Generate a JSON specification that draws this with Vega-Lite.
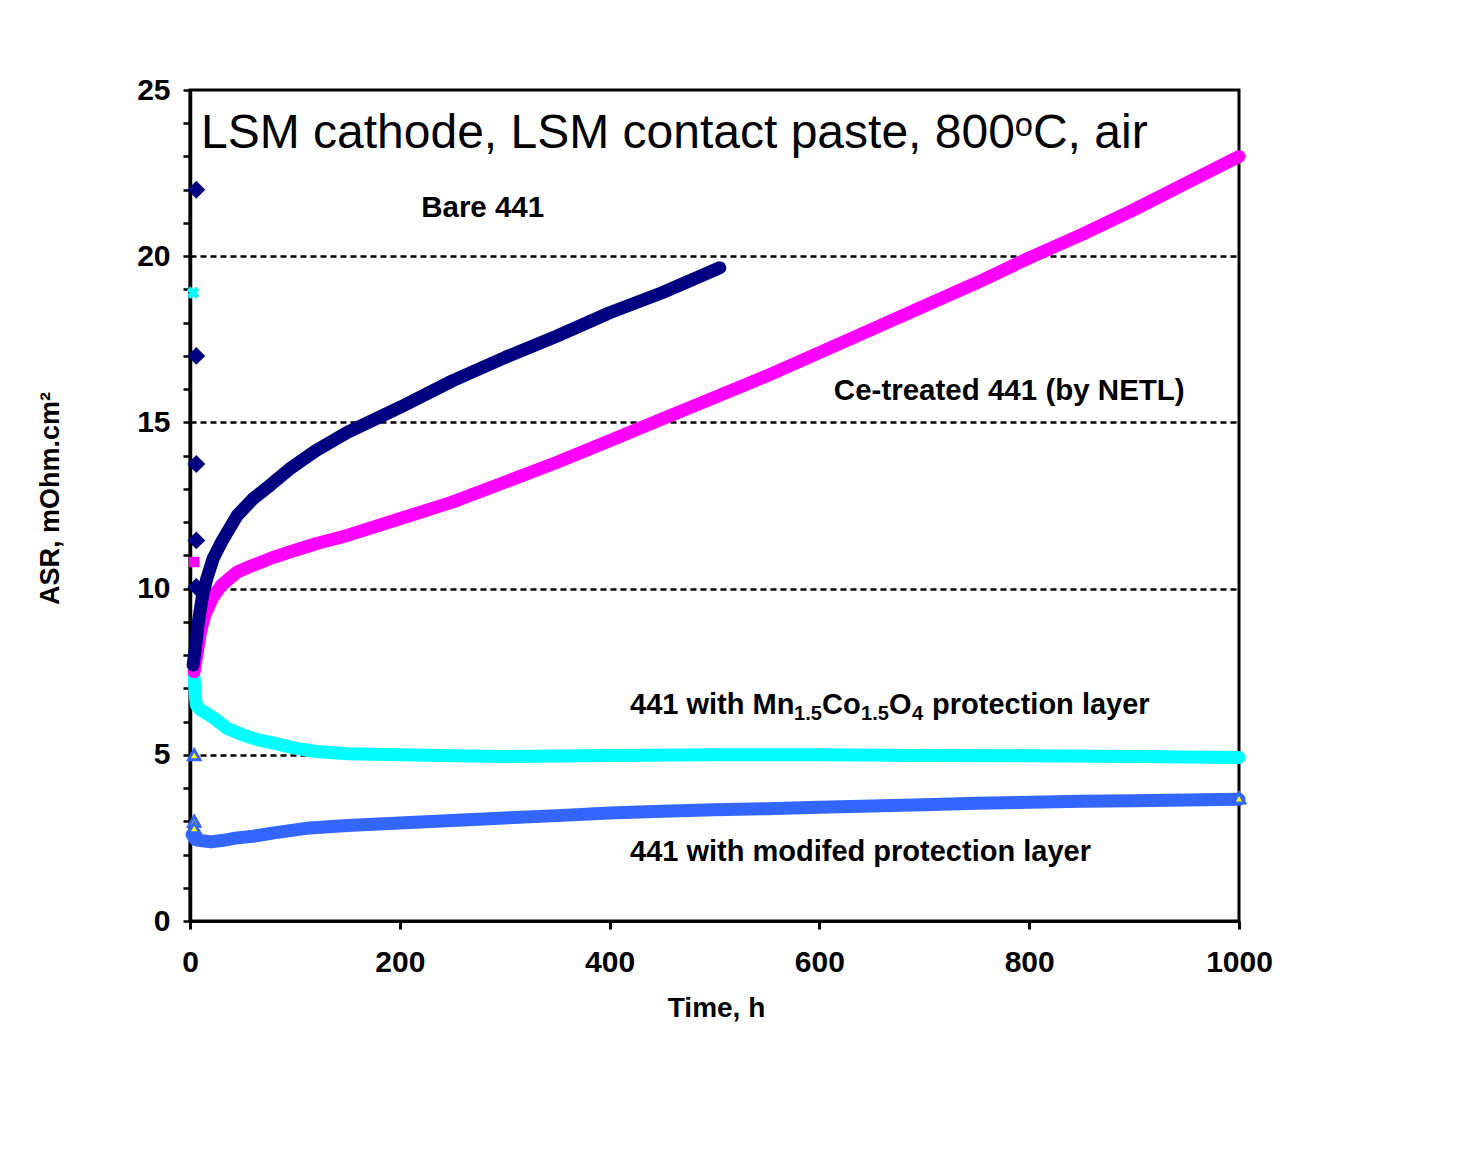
{
  "$schema": "https://vega.github.io/schema/vega-lite/v6.json",
  "width": 1049,
  "height": 831,
  "autosize": "none",
  "padding": {"left": 190, "top": 90, "right": 240, "bottom": 230},
  "background": "white",
  "config": {
    "view": {"stroke": "black", "strokeWidth": 3},
    "font": "Liberation Sans"
  },
  "datasets": {
    "curves": [
      {"series": "Mod", "t": 2, "v": 2.6}, {"series": "Mod", "t": 5, "v": 2.45}, {"series": "Mod", "t": 10, "v": 2.42}, {"series": "Mod", "t": 20, "v": 2.38}, {"series": "Mod", "t": 30, "v": 2.42}, {"series": "Mod", "t": 45, "v": 2.5}, {"series": "Mod", "t": 60, "v": 2.55}, {"series": "Mod", "t": 80, "v": 2.65}, {"series": "Mod", "t": 114, "v": 2.8}, {"series": "Mod", "t": 150, "v": 2.87}, {"series": "Mod", "t": 200, "v": 2.95}, {"series": "Mod", "t": 250, "v": 3.02}, {"series": "Mod", "t": 300, "v": 3.1}, {"series": "Mod", "t": 350, "v": 3.17}, {"series": "Mod", "t": 400, "v": 3.25}, {"series": "Mod", "t": 450, "v": 3.3}, {"series": "Mod", "t": 500, "v": 3.35}, {"series": "Mod", "t": 550, "v": 3.38}, {"series": "Mod", "t": 600, "v": 3.42}, {"series": "Mod", "t": 650, "v": 3.46}, {"series": "Mod", "t": 700, "v": 3.5}, {"series": "Mod", "t": 750, "v": 3.54}, {"series": "Mod", "t": 800, "v": 3.57}, {"series": "Mod", "t": 850, "v": 3.6}, {"series": "Mod", "t": 900, "v": 3.62}, {"series": "Mod", "t": 950, "v": 3.64}, {"series": "Mod", "t": 1000, "v": 3.66},
      {"series": "MCO", "t": 4, "v": 7.3}, {"series": "MCO", "t": 5, "v": 6.8}, {"series": "MCO", "t": 6, "v": 6.5}, {"series": "MCO", "t": 10, "v": 6.35}, {"series": "MCO", "t": 18, "v": 6.2}, {"series": "MCO", "t": 25, "v": 6.05}, {"series": "MCO", "t": 35, "v": 5.8}, {"series": "MCO", "t": 50, "v": 5.6}, {"series": "MCO", "t": 65, "v": 5.45}, {"series": "MCO", "t": 80, "v": 5.35}, {"series": "MCO", "t": 100, "v": 5.2}, {"series": "MCO", "t": 120, "v": 5.1}, {"series": "MCO", "t": 150, "v": 5.03}, {"series": "MCO", "t": 200, "v": 5.0}, {"series": "MCO", "t": 250, "v": 4.97}, {"series": "MCO", "t": 300, "v": 4.95}, {"series": "MCO", "t": 400, "v": 4.98}, {"series": "MCO", "t": 500, "v": 5.0}, {"series": "MCO", "t": 600, "v": 5.0}, {"series": "MCO", "t": 700, "v": 4.98}, {"series": "MCO", "t": 800, "v": 4.97}, {"series": "MCO", "t": 900, "v": 4.95}, {"series": "MCO", "t": 1000, "v": 4.92},
      {"series": "Ce", "t": 4, "v": 7.5}, {"series": "Ce", "t": 6, "v": 7.9}, {"series": "Ce", "t": 8, "v": 8.3}, {"series": "Ce", "t": 10, "v": 8.7}, {"series": "Ce", "t": 14, "v": 9.2}, {"series": "Ce", "t": 22, "v": 9.75}, {"series": "Ce", "t": 30, "v": 10.1}, {"series": "Ce", "t": 45, "v": 10.5}, {"series": "Ce", "t": 60, "v": 10.7}, {"series": "Ce", "t": 76, "v": 10.9}, {"series": "Ce", "t": 95, "v": 11.1}, {"series": "Ce", "t": 120, "v": 11.35}, {"series": "Ce", "t": 150, "v": 11.6}, {"series": "Ce", "t": 200, "v": 12.1}, {"series": "Ce", "t": 250, "v": 12.6}, {"series": "Ce", "t": 300, "v": 13.2}, {"series": "Ce", "t": 350, "v": 13.8}, {"series": "Ce", "t": 400, "v": 14.45}, {"series": "Ce", "t": 450, "v": 15.1}, {"series": "Ce", "t": 500, "v": 15.75}, {"series": "Ce", "t": 550, "v": 16.4}, {"series": "Ce", "t": 600, "v": 17.1}, {"series": "Ce", "t": 650, "v": 17.8}, {"series": "Ce", "t": 700, "v": 18.5}, {"series": "Ce", "t": 750, "v": 19.2}, {"series": "Ce", "t": 800, "v": 19.95}, {"series": "Ce", "t": 850, "v": 20.65}, {"series": "Ce", "t": 900, "v": 21.4}, {"series": "Ce", "t": 950, "v": 22.2}, {"series": "Ce", "t": 1000, "v": 23.0},
      {"series": "Bare", "t": 3, "v": 7.7}, {"series": "Bare", "t": 5, "v": 8.2}, {"series": "Bare", "t": 8, "v": 9.0}, {"series": "Bare", "t": 12, "v": 9.8}, {"series": "Bare", "t": 16, "v": 10.3}, {"series": "Bare", "t": 22, "v": 10.9}, {"series": "Bare", "t": 30, "v": 11.4}, {"series": "Bare", "t": 45, "v": 12.2}, {"series": "Bare", "t": 60, "v": 12.7}, {"series": "Bare", "t": 76, "v": 13.1}, {"series": "Bare", "t": 95, "v": 13.6}, {"series": "Bare", "t": 120, "v": 14.15}, {"series": "Bare", "t": 150, "v": 14.7}, {"series": "Bare", "t": 180, "v": 15.15}, {"series": "Bare", "t": 200, "v": 15.45}, {"series": "Bare", "t": 250, "v": 16.25}, {"series": "Bare", "t": 300, "v": 16.95}, {"series": "Bare", "t": 350, "v": 17.6}, {"series": "Bare", "t": 400, "v": 18.3}, {"series": "Bare", "t": 450, "v": 18.9}, {"series": "Bare", "t": 505, "v": 19.65}
    ],
    "markers": [
      {"series": "Bare", "t": 6, "v": 22.0}, {"series": "Bare", "t": 6, "v": 17.0}, {"series": "Bare", "t": 6, "v": 13.75}, {"series": "Bare", "t": 6, "v": 11.45}, {"series": "Bare", "t": 6, "v": 10.05},
      {"series": "Ce", "t": 4, "v": 10.8},
      {"series": "MCO", "t": 3, "v": 18.9},
      {"series": "Mod", "t": 4, "v": 5.0}, {"series": "Mod", "t": 4, "v": 3.0}, {"series": "Mod", "t": 4, "v": 2.8}, {"series": "Mod", "t": 1000, "v": 3.7}
    ],
    "labels": [
      {"id": "title", "text": "LSM cathode, LSM contact paste, 800ᵒC, air", "t": 10.5, "v": 23.26},
      {"id": "bare", "text": "Bare 441", "t": 279, "v": 21.18},
      {"id": "ce", "text": "Ce-treated 441 (by NETL)", "t": 781, "v": 15.67},
      {"id": "mco", "text": "441 with Mn1.5Co1.5O4 protection layer", "t": 419.5, "v": 6.23},
      {"id": "mod", "text": "441 with modifed protection layer", "t": 419.5, "v": 1.8}
    ]
  },
  "encoding": {
    "x": {
      "field": "t", "type": "quantitative",
      "scale": {"domain": [0, 1000], "nice": false},
      "axis": {
        "title": "Time, h", "values": [0, 200, 400, 600, 800, 1000], "format": "d",
        "grid": false, "domainColor": "black", "domainWidth": 3,
        "tickColor": "black", "tickWidth": 3, "tickSize": 8,
        "labelFont": "Liberation Sans", "labelFontWeight": "bold", "labelFontSize": 30, "labelColor": "black", "labelPadding": 18,
        "labelFlush": false, "labelOverlap": false,
        "titleFont": "Liberation Sans", "titleFontWeight": "bold", "titleFontSize": 28, "titleColor": "black",
        "titleX": 526, "titleY": 87, "titleBaseline": "middle", "titleAlign": "center"
      }
    },
    "y": {
      "field": "v", "type": "quantitative",
      "scale": {"domain": [0, 25], "nice": false},
      "axis": {
        "title": "ASR, mOhm.cm²",
        "values": [0,1,2,3,4,5,6,7,8,9,10,11,12,13,14,15,16,17,18,19,20,21,22,23,24,25],
        "labelExpr": "datum.value % 5 === 0 ? datum.label : ''",
        "grid": true, "gridColor": "black", "gridWidth": 2.5, "gridDash": [6, 4],
        "gridOpacity": {"condition": {"test": "datum.value % 5 === 0 && datum.value > 0 && datum.value < 25", "value": 1}, "value": 0},
        "domainColor": "black", "domainWidth": 3.5,
        "tickColor": "black", "tickWidth": 2.5, "tickSize": 7,
        "labelFont": "Liberation Sans", "labelFontWeight": "bold", "labelFontSize": 30, "labelColor": "black", "labelPadding": 13,
        "labelFlush": false, "labelOverlap": false,
        "titleFont": "Liberation Sans", "titleFontWeight": "bold", "titleFontSize": 27, "titleColor": "black",
        "titleAngle": 270, "titleX": -140, "titleY": 408, "titleBaseline": "middle", "titleAlign": "center"
      }
    }
  },
  "layer": [
    {
      "data": {"name": "curves"},
      "mark": {"type": "line", "strokeWidth": 13, "strokeCap": "round", "strokeJoin": "round"},
      "encoding": {
        "color": {
          "field": "series", "type": "nominal", "legend": null,
          "scale": {"domain": ["Mod", "MCO", "Ce", "Bare"], "range": ["#3366FF", "#00FFFF", "#FF00FF", "#000080"]}
        },
        "order": {"field": "t", "type": "quantitative"}
      }
    },
    {
      "data": {"name": "markers"},
      "transform": [{"filter": "datum.series === 'Bare'"}],
      "mark": {"type": "point", "shape": "diamond", "filled": true, "color": "#000080", "size": 320, "opacity": 1}
    },
    {
      "data": {"name": "markers"},
      "transform": [{"filter": "datum.series === 'Ce'"}],
      "mark": {"type": "point", "shape": "square", "filled": true, "color": "#FF00FF", "size": 110, "opacity": 1}
    },
    {
      "data": {"name": "markers"},
      "transform": [{"filter": "datum.series === 'MCO'"}],
      "mark": {"type": "point", "shape": "cross", "angle": 45, "filled": true, "color": "#00FFFF", "size": 160, "opacity": 1}
    },
    {
      "data": {"name": "markers"},
      "transform": [{"filter": "datum.series === 'Mod'"}],
      "mark": {"type": "point", "shape": "triangle-up", "filled": true, "fill": "#FFFF00", "stroke": "#3366FF", "strokeWidth": 3, "size": 130, "opacity": 1}
    },
    {
      "data": {"name": "labels"},
      "transform": [{"filter": "datum.id === 'title'"}],
      "mark": {"type": "text", "font": "Liberation Sans", "fontSize": 48, "align": "left", "baseline": "alphabetic", "color": "black"},
      "encoding": {"text": {"field": "text"}}
    },
    {
      "data": {"name": "labels"},
      "transform": [{"filter": "datum.id === 'bare' || datum.id === 'ce'"}],
      "mark": {"type": "text", "font": "Liberation Sans", "fontWeight": "bold", "fontSize": 29.5, "align": "center", "baseline": "alphabetic", "color": "black"},
      "encoding": {"text": {"field": "text"}}
    },
    {
      "data": {"name": "labels"},
      "transform": [{"filter": "datum.id === 'mod'"}],
      "mark": {"type": "text", "font": "Liberation Sans", "fontWeight": "bold", "fontSize": 29, "align": "left", "baseline": "alphabetic", "color": "black"},
      "encoding": {"text": {"field": "text"}}
    },
    {
      "data": {"name": "labels"},
      "transform": [{"filter": "datum.id === 'mco'"}],
      "mark": {"type": "text", "text": "441 with Mn", "font": "Liberation Sans", "fontWeight": "bold", "fontSize": 29, "align": "left", "baseline": "alphabetic", "color": "black"}
    },
    {
      "data": {"name": "labels"},
      "transform": [{"filter": "datum.id === 'mco'"}],
      "mark": {"type": "text", "text": "1.5", "dx": 164, "dy": 6, "font": "Liberation Sans", "fontWeight": "bold", "fontSize": 20, "align": "left", "baseline": "alphabetic", "color": "black"}
    },
    {
      "data": {"name": "labels"},
      "transform": [{"filter": "datum.id === 'mco'"}],
      "mark": {"type": "text", "text": "Co", "dx": 192, "font": "Liberation Sans", "fontWeight": "bold", "fontSize": 29, "align": "left", "baseline": "alphabetic", "color": "black"}
    },
    {
      "data": {"name": "labels"},
      "transform": [{"filter": "datum.id === 'mco'"}],
      "mark": {"type": "text", "text": "1.5", "dx": 231, "dy": 6, "font": "Liberation Sans", "fontWeight": "bold", "fontSize": 20, "align": "left", "baseline": "alphabetic", "color": "black"}
    },
    {
      "data": {"name": "labels"},
      "transform": [{"filter": "datum.id === 'mco'"}],
      "mark": {"type": "text", "text": "O", "dx": 259, "font": "Liberation Sans", "fontWeight": "bold", "fontSize": 29, "align": "left", "baseline": "alphabetic", "color": "black"}
    },
    {
      "data": {"name": "labels"},
      "transform": [{"filter": "datum.id === 'mco'"}],
      "mark": {"type": "text", "text": "4", "dx": 282, "dy": 6, "font": "Liberation Sans", "fontWeight": "bold", "fontSize": 20, "align": "left", "baseline": "alphabetic", "color": "black"}
    },
    {
      "data": {"name": "labels"},
      "transform": [{"filter": "datum.id === 'mco'"}],
      "mark": {"type": "text", "text": "protection layer", "dx": 302, "font": "Liberation Sans", "fontWeight": "bold", "fontSize": 29, "align": "left", "baseline": "alphabetic", "color": "black"}
    }
  ]
}
